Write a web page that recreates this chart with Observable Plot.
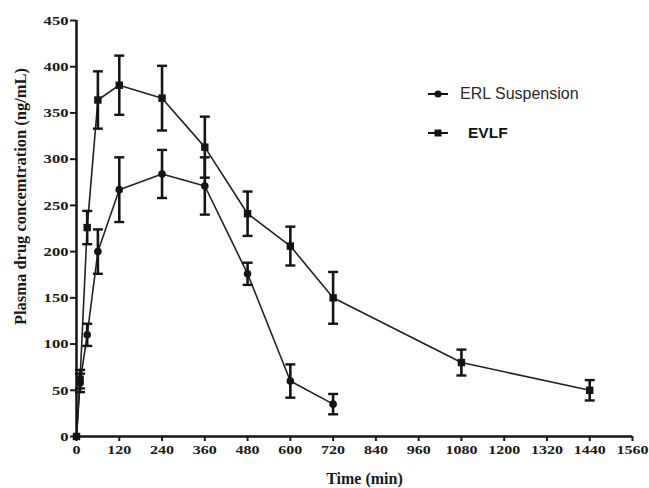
<!DOCTYPE html>
<html><head><meta charset="utf-8">
<script src="https://cdn.jsdelivr.net/npm/d3@7"></script>
<script src="https://cdn.jsdelivr.net/npm/@observablehq/plot@0.6"></script>
<style>
html,body{margin:0;padding:0;background:#fff;}
#wrap{position:relative;width:649px;height:488px;overflow:hidden;}
#wrap svg{overflow:visible;}
.leg{position:absolute;font-family:"Liberation Sans",Arial,sans-serif;white-space:nowrap;line-height:1;}
.leg svg{position:absolute;left:0;top:0;}
</style></head><body>
<div id="wrap"></div>
<script>
// ---- data ----
const seriesNames = ["ERL Suspension", "EVLF"];
const timeERL  = [0, 10, 30, 60, 120, 240, 360, 480, 600, 720];
const meanERL  = [0, 58, 110, 200, 267, 284, 271, 176, 60, 35];
const sdERL    = [0, 10, 12, 24, 35, 26, 31, 12, 18, 11];
const timeEVLF = [0, 10, 30, 60, 120, 240, 360, 480, 600, 720, 1080, 1440];
const meanEVLF = [0, 62, 226, 364, 380, 366, 313, 241, 206, 150, 80, 50];
const sdEVLF   = [0, 10, 18, 31, 32, 35, 33, 24, 21, 28, 14, 11];
const xTicks = [0,120,240,360,480,600,720,840,960,1080,1200,1320,1440,1560];
const yTicks = [0,50,100,150,200,250,300,350,400,450];
const xTitle = "Time (min)";
const yTitle = "Plasma drug concemtration (ng/mL)";

const rowsERL = timeERL.map((t,i)=>({series:seriesNames[0], t, m:meanERL[i], lo:meanERL[i]-sdERL[i], hi:meanERL[i]+sdERL[i], sd:sdERL[i]}));
const rowsEVLF = timeEVLF.map((t,i)=>({series:seriesNames[1], t, m:meanEVLF[i], lo:meanEVLF[i]-sdEVLF[i], hi:meanEVLF[i]+sdEVLF[i], sd:sdEVLF[i]}));
const errRows = rowsERL.concat(rowsEVLF).filter(d => d.sd > 0);

const capSymbol = {draw(ctx, size){ const w = Math.sqrt(size/Math.PI); ctx.moveTo(-w,0); ctx.lineTo(w,0); }};
const ink = "#141414";

const chart = Plot.plot({
  width: 649, height: 488,
  marginLeft: 76, marginRight: 17, marginTop: 20, marginBottom: 52,
  style: {fontFamily: '"Liberation Serif","Times New Roman",serif', fontWeight: "bold", fontSize: "13.5px", color: "#1a1a1a", background: "#fff"},
  x: {domain: [0, 1560]},
  y: {domain: [0, 450]},
  marks: [
    Plot.axisX({ticks: xTicks, tickSize: 5, tickPadding: 3, strokeWidth: 2, label: null, tickFormat: d => String(d)}),
    Plot.axisY({ticks: yTicks, tickSize: 6, tickPadding: 2, strokeWidth: 2, label: null, tickFormat: d => String(d)}),
    Plot.line(rowsERL, {x: "t", y: "m", stroke: "#222", strokeWidth: 1.6}),
    Plot.line(rowsEVLF, {x: "t", y: "m", stroke: "#222", strokeWidth: 1.6}),
    Plot.ruleX([0], {stroke: ink, strokeWidth: 2.5}),
    Plot.ruleY([0], {stroke: ink, strokeWidth: 2.5}),
    Plot.ruleX(errRows, {x: "t", y1: "lo", y2: "hi", stroke: ink, strokeWidth: 2.6}),
    Plot.dot(errRows, {x: "t", y: "lo", symbol: capSymbol, r: 5, fill: "none", stroke: ink, strokeWidth: 2.4}),
    Plot.dot(errRows, {x: "t", y: "hi", symbol: capSymbol, r: 5, fill: "none", stroke: ink, strokeWidth: 2.4}),
    Plot.dot(rowsERL, {x: "t", y: "m", symbol: "circle", r: 3.8, fill: ink, stroke: "none"}),
    Plot.dot(rowsEVLF, {x: "t", y: "m", symbol: "square", r: 4.2, fill: ink, stroke: "none"}),
    Plot.text([yTitle], {frameAnchor: "left", dx: -56, dy: -32, rotate: -90, fontSize: 16.5, fontWeight: "bold", fill: "#1a1a1a", textAnchor: "middle", lineAnchor: "middle", ariaLabel: "ytitle"}),
    Plot.text([xTitle], {frameAnchor: "bottom", dx: 10, dy: 42, fontSize: 16, fontWeight: "bold", fill: "#1a1a1a", textAnchor: "middle", lineAnchor: "middle", ariaLabel: "xtitle"})
  ]
});
const wrap = document.getElementById("wrap");
wrap.appendChild(chart);

function fit(sel, lengthOf){
  chart.querySelectorAll(sel).forEach(t => {
    const L = lengthOf(t.textContent);
    t.setAttribute("textLength", L.toFixed(1));
    t.setAttribute("lengthAdjust", "spacingAndGlyphs");
  });
}
fit('g[aria-label="x-axis tick label"] text', s => 8 * s.length);
fit('g[aria-label="y-axis tick label"] text', s => 8.3 * s.length);
fit('g[aria-label="ytitle"] text', () => 337);
fit('g[aria-label="xtitle"] text', () => 98);

// legend (HTML overlay)
function legItem(name, symbol, top, textLeft, style){
  const d = document.createElement("div");
  d.className = "leg";
  d.style.left = "426px"; d.style.top = (top - 10) + "px"; d.style.width = "200px"; d.style.height = "20px";
  const s = symbol === "circle"
    ? '<circle cx="12" cy="10" r="3.6" fill="#141414"/>'
    : '<rect x="8.5" y="6.5" width="7" height="7" fill="#141414"/>';
  d.innerHTML = '<svg width="26" height="20"><line x1="2" x2="22" y1="10" y2="10" stroke="#141414" stroke-width="2"/>' + s + '</svg>' +
    '<span style="position:absolute;left:' + textLeft + 'px;top:50%;transform:translateY(-50%);' + style + '">' + name + '</span>';
  wrap.appendChild(d);
}
legItem(seriesNames[0], "circle", 94, 34, "font-size:16px;color:#2a2a2a;");
legItem(seriesNames[1], "square", 133, 42, "font-size:15.5px;font-weight:bold;color:#111;");
</script>
</body></html>
